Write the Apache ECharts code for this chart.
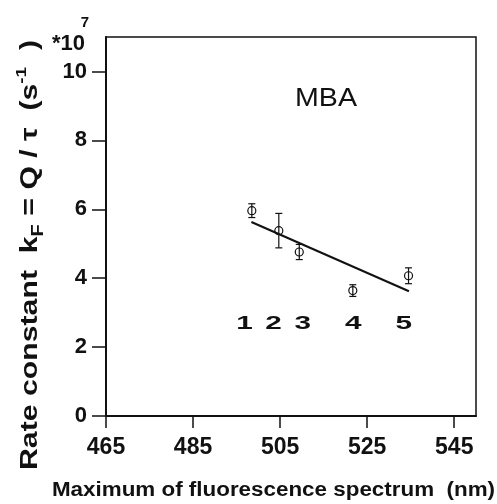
<!DOCTYPE html>
<html>
<head>
<meta charset="utf-8">
<script src="https://cdn.jsdelivr.net/npm/echarts@6/dist/echarts.min.js"></script>
<style>
html, body { margin: 0; padding: 0; background: #fff; }
#main { width: 497px; height: 504px; }
</style>
</head>
<body>
<div id="main"></div>
<script>
// measured points: emission maximum (nm) vs k_F (*10^7 s^-1)
var waveMax = [498.5, 504.7, 509.4, 521.7, 534.5];
var rateK = [5.96, 5.38, 4.76, 3.64, 4.07];
var rateErr = [0.2, 0.5, 0.22, 0.17, 0.23];
// straight fit line
var fitX = [498.4, 534.6];
var fitY = [5.63, 3.62];
// sample numbers under the points
var numX = [496.8, 503.5, 510.2, 521.8, 533.4];
var numY = [2.68, 2.68, 2.68, 2.68, 2.68];
var numText = ['1', '2', '3', '4', '5'];
// axis ticks
var xTicks = [465, 485, 505, 525, 545];
var yTicks = [0, 2, 4, 6, 8, 10];

var FONT = '"Liberation Sans", Arial, sans-serif';
var chart = echarts.init(document.getElementById('main'));

// open circle with a vertical error bar and caps
function renderPoint(params, api) {
    var x = api.value(0), y = api.value(1), e = api.value(2);
    var c = api.coord([x, y]);
    var top = api.coord([x, y + e]);
    var bot = api.coord([x, y - e]);
    var st = {stroke: '#111', lineWidth: 1.2, fill: null};
    return {
        type: 'group',
        children: [
            {type: 'circle', shape: {cx: c[0], cy: c[1], r: 4}, style: {stroke: '#111', fill: 'none', lineWidth: 1.2}},
            {type: 'line', shape: {x1: c[0], y1: top[1], x2: c[0], y2: bot[1]}, style: st},
            {type: 'line', shape: {x1: c[0] - 3.5, y1: top[1], x2: c[0] + 3.5, y2: top[1]}, style: st},
            {type: 'line', shape: {x1: c[0] - 3.5, y1: bot[1], x2: c[0] + 3.5, y2: bot[1]}, style: st}
        ]
    };
}

function renderNum(params, api) {
    var c = api.coord([api.value(0), api.value(1)]);
    return {
        type: 'text',
        x: c[0], y: c[1], scaleX: 1.65,
        style: {
            text: numText[params.dataIndex],
            fill: '#111', fontSize: 18, fontWeight: 'bold', fontFamily: FONT,
            align: 'center', verticalAlign: 'middle'
        }
    };
}

var pointData = [];
for (var i = 0; i < waveMax.length; i++) {
    pointData.push([waveMax[i], rateK[i], rateErr[i]]);
}
var fitData = [];
for (var i = 0; i < fitX.length; i++) {
    fitData.push([fitX[i], fitY[i]]);
}
var numData = [];
for (var i = 0; i < numX.length; i++) {
    numData.push([numX[i], numY[i]]);
}

var option = {
    animation: false,
    backgroundColor: '#fff',
    grid: {
        left: 106, right: 21, top: 37, bottom: 88,
        show: true, borderColor: '#111', borderWidth: 1.5
    },
    xAxis: {
        type: 'value',
        min: 465,
        max: 550,
        axisLine: {show: true, lineStyle: {color: '#111', width: 2}},
        axisTick: {show: true, customValues: xTicks, length: 12, lineStyle: {color: '#111', width: 1.5}},
        axisLabel: {customValues: xTicks, margin: 20, color: '#111', fontSize: 23, fontWeight: 'bold', fontFamily: FONT},
        splitLine: {show: false}
    },
    yAxis: {
        type: 'value',
        min: 0,
        max: 11,
        axisLine: {show: true, lineStyle: {color: '#111', width: 2}},
        axisTick: {show: true, customValues: yTicks, length: 14, lineStyle: {color: '#111', width: 1.5}},
        axisLabel: {customValues: yTicks, margin: 19, color: '#111', fontSize: 22, fontWeight: 'bold', fontFamily: FONT},
        splitLine: {show: false}
    },
    graphic: [
        {type: 'text', x: 85, y: 44, style: {text: '*10', fontSize: 22, fontWeight: 'bold', fontFamily: FONT, fill: '#111', align: 'right', verticalAlign: 'middle'}},
        {type: 'text', x: 85, y: 23, style: {text: '7', fontSize: 15, fontWeight: 'bold', fontFamily: FONT, fill: '#111', align: 'center', verticalAlign: 'middle'}},
        {type: 'text', x: 326, y: 99, scaleX: 1.1, style: {text: 'MBA', fontSize: 26, fontFamily: FONT, fill: '#111', align: 'center', verticalAlign: 'middle'}},
        {type: 'text', x: 273.5, y: 490, scaleX: 1.12, style: {text: 'Maximum of fluorescence spectrum  (nm)', fontSize: 20, fontWeight: 'bold', fontFamily: FONT, fill: '#111', align: 'center', verticalAlign: 'middle'}},
        {
            type: 'text', x: 30.5, y: 255, rotation: Math.PI / 2, scaleX: 1.26,
            style: {
                text: '{b|Rate constant  k}{sub|F}{b| = Q / \u03c4  (s}{sup|-1}{b|  )}',
                fill: '#111', align: 'center', verticalAlign: 'middle',
                rich: {
                    b: {fontSize: 24, fontWeight: 'bold', fontFamily: FONT, lineHeight: 32, fill: '#111'},
                    sub: {fontSize: 16, fontWeight: 'bold', fontFamily: FONT, lineHeight: 22, verticalAlign: 'bottom', fill: '#111'},
                    sup: {fontSize: 15, fontWeight: 'bold', fontFamily: FONT, lineHeight: 17, verticalAlign: 'top', fill: '#111'}
                }
            }
        }
    ],
    series: [
        {
            type: 'line',
            data: fitData,
            showSymbol: false,
            symbol: 'none',
            lineStyle: {color: '#111', width: 2},
            z: 2
        },
        {
            type: 'custom',
            renderItem: renderPoint,
            data: pointData,
            encode: {x: 0, y: 1},
            z: 3
        },
        {
            type: 'custom',
            renderItem: renderNum,
            data: numData,
            encode: {x: 0, y: 1},
            z: 3
        }
    ]
};
chart.setOption(option);
</script>
</body>
</html>
